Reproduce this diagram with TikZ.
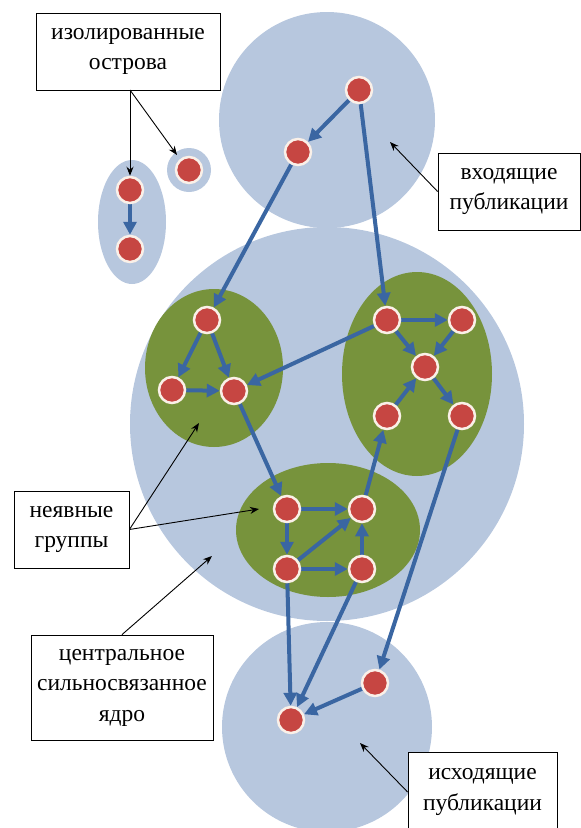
\documentclass[tikz,border=0pt]{standalone}
\usepackage{fontspec}
\setmainfont{Liberation Serif}
\usetikzlibrary{arrows.meta}
\definecolor{bgblue}{RGB}{183,199,222}
\definecolor{grp}{RGB}{119,147,60}
\definecolor{nred}{RGB}{198,70,66}
\definecolor{ncream}{RGB}{250,240,232}
\definecolor{ablue}{RGB}{58,102,162}
\pgfdeclarelayer{bg}
\pgfdeclarelayer{edges}
\pgfsetlayers{bg,edges,main}
\tikzset{
  pub/.style={circle,fill=nred,draw=ncream,line width=2.5pt,minimum size=26pt,inner sep=0pt},
  link/.style={draw=ablue,line width=4pt,-{Triangle[length=13pt,width=13pt]}},
  lbl/.style={draw=black,fill=white,line width=0.8pt,align=center,inner sep=0pt,
    font=\rmfamily\fontsize{23.5}{30.5}\selectfont},
  pointer/.style={draw=black,line width=0.9pt,-{Stealth[length=9pt,width=7pt]}}
}
\begin{document}
\begin{tikzpicture}[x=1pt,y=-1pt]
\useasboundingbox (0,0) rectangle (581,828);
\clip (0,0) rectangle (581,828);
\begin{pgfonlayer}{bg}
  \fill[bgblue] (327,120) circle (108);
  \fill[bgblue] (327,424) circle (197);
  \fill[bgblue] (327,727) circle (105);
  \fill[bgblue] (132,222) ellipse [x radius=34, y radius=62];
  \fill[bgblue] (189,170) circle (22);
  \fill[grp] (214,368) ellipse [x radius=69, y radius=79];
  \fill[grp] (417,374) ellipse [x radius=75, y radius=102];
  \fill[grp] (328,530) ellipse [x radius=92, y radius=67];
\end{pgfonlayer}
% publications
\node[pub] (i1) at (130,190) {};
\node[pub] (i2) at (130,249) {};
\node[pub] (s1) at (189,170) {};
\node[pub] (a1) at (359,90) {};
\node[pub] (a2) at (298,152) {};
\node[pub] (l1) at (207,320) {};
\node[pub] (l2) at (172,390) {};
\node[pub] (l3) at (234,391) {};
\node[pub] (r1) at (387,320) {};
\node[pub] (r2) at (462,320) {};
\node[pub] (r3) at (425,367) {};
\node[pub] (r4) at (387,416) {};
\node[pub] (r5) at (462,416) {};
\node[pub] (b1) at (287,509) {};
\node[pub] (b2) at (362,509) {};
\node[pub] (b3) at (287,569) {};
\node[pub] (b4) at (362,569) {};
\node[pub] (o1) at (291,720) {};
\node[pub] (o2) at (375,683) {};
\begin{pgfonlayer}{edges}
  \draw[link] (i1) -- (i2);
  \draw[link] (a1) -- (a2);
  \draw[link] (a2) -- (l1);
  \draw[link] (a1) -- (r1);
  \draw[link] (l1) -- (l2);
  \draw[link] (l1) -- (l3);
  \draw[link] (l2) -- (l3);
  \draw[link] (r1) -- (l3);
  \draw[link] (l3) -- (b1);
  \draw[link] (r1) -- (r2);
  \draw[link] (r1) -- (r3);
  \draw[link] (r2) -- (r3);
  \draw[link] (r3) -- (r5);
  \draw[link] (r4) -- (r3);
  \draw[link] (b2) -- (r4);
  \draw[link] (r5) -- (o2);
  \draw[link] (b1) -- (b2);
  \draw[link] (b1) -- (b3);
  \draw[link] (b3) -- (b2);
  \draw[link] (b3) -- (b4);
  \draw[link] (b4) -- (b2);
  \draw[link] (b3) -- (o1);
  \draw[link] (b4) -- (o1);
  \draw[link] (o2) -- (o1);
\end{pgfonlayer}
% labels
\node[lbl,minimum width=184pt,minimum height=77pt] (lab1) at (128,51.5) {изолированные\\острова};
\node[lbl,minimum width=142pt,minimum height=77pt] (lab2) at (509,191.5) {входящие\\публикации};
\node[lbl,minimum width=115pt,minimum height=77pt] (lab3) at (71.5,529.5) {неявные\\группы};
\node[lbl,minimum width=182pt,minimum height=105pt] (lab4) at (122,687.5) {центральное\\сильносвязанное\\ядро};
\node[lbl,minimum width=149pt,minimum height=80pt] (lab5) at (482.5,792) {исходящие\\публикации};
\coordinate (s0) at (130,90);
\coordinate (t1) at (177,155);
\coordinate (t2) at (390,142);
\coordinate (t3) at (199,423);
\coordinate (t4) at (259,509);
\coordinate (t5) at (212,556);
\coordinate (t6) at (360,743);
\draw[pointer] (s0) -- (i1);
\draw[pointer] (s0) -- (t1);
\draw[pointer] (lab2.west) -- (t2);
\draw[pointer] (lab3.east) -- (t3);
\draw[pointer] (lab3.east) -- (t4);
\draw[pointer] (lab4.north) -- (t5);
\draw[pointer] (lab5.west) -- (t6);
\end{tikzpicture}
\end{document}
